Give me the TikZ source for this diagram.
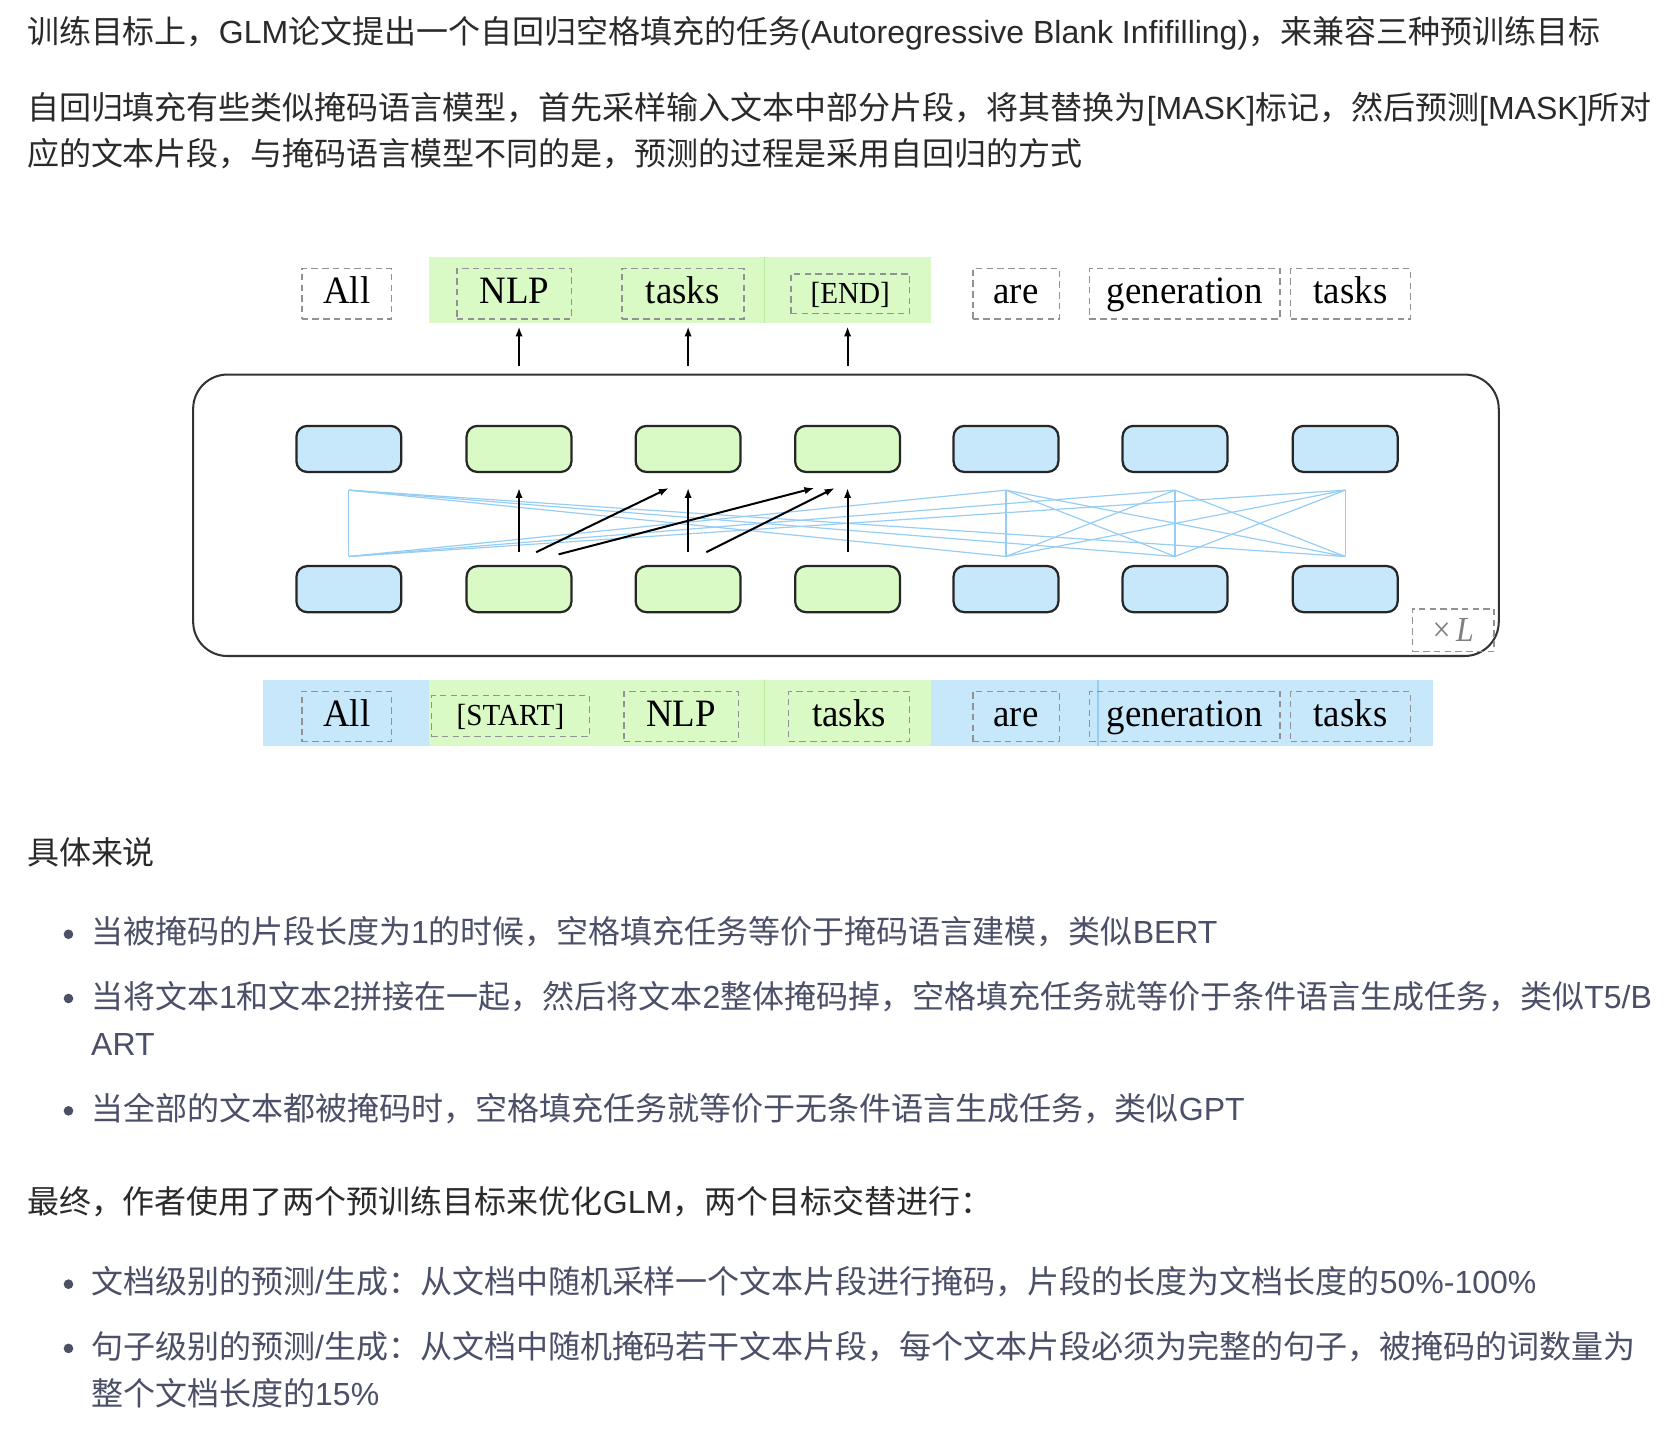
\documentclass[tikz,border=0pt]{standalone}
\usepackage{fontspec}
\setmainfont{Liberation Serif}
\newfontfamily\cjk{Noto Sans CJK SC}
\newfontfamily\lat{Liberation Sans}
\usetikzlibrary{arrows.meta}
\newdimen\dpx \dpx=0.8028pt
\definecolor{txt}{HTML}{2A2A2A}
\definecolor{btxt}{HTML}{4B4F68}
\definecolor{cblue}{RGB}{199,231,251}
\definecolor{cgreen}{RGB}{217,250,196}
\definecolor{gsplit}{RGB}{185,236,160}
\definecolor{bsplit}{RGB}{150,205,240}
\definecolor{attn}{RGB}{150,205,245}
\definecolor{dashc}{RGB}{145,145,150}
\newcommand\la[1]{{\lat #1}}
\newcommand\wt[1]{\raisebox{-4\dpx}{\scalebox{0.97}[1.02]{#1}}}
\begin{document}
\begin{tikzpicture}[x=0.8028pt,y=-0.8028pt,
  para/.style={anchor=base west,inner sep=0pt,font=\cjk\fontsize{24}{29}\selectfont,text=txt},
  bul/.style={para,text=btxt},
  bdot/.style={circle,fill=btxt,inner sep=0pt,minimum size=9\dpx},
  cellb/.style={draw=black!85,line width=2.1\dpx,rounded corners=10\dpx,fill=cblue,minimum width=98\dpx,minimum height=43\dpx,inner sep=0pt},
  cellg/.style={cellb,fill=cgreen},
  word/.style={draw=dashc,dash pattern=on 6\dpx off 4\dpx,line width=1.4\dpx,inner sep=0pt,minimum height=47\dpx,text height=1.02em,text depth=0.2em,font=\fontsize{28.5}{30}\selectfont},
  sword/.style={word,minimum height=37\dpx,font=\fontsize{22.5}{24}\selectfont},
  arr/.style={-{Latex[length=7.5pt,width=5.5pt]},line width=1.5pt},
  att/.style={draw=attn,line width=1.1\dpx}]
\useasboundingbox (0,0) rectangle (1568,1338);
\fill[white] (0,0) rectangle (1568,1338);

% ---------- text ----------
\node[para] (p1) at (25,41) {训练目标上，\la{GLM}论文提出一个自回归空格填充的任务\la{(Autoregressive Blank Infifilling)}，来兼容三种预训练目标};
\node[para] (p2a) at (25,112) {自回归填充有些类似掩码语言模型，首先采样输入文本中部分片段，将其替换为\la{[MASK]}标记，然后预测\la{[MASK]}所对};
\node[para] (p2b) at (25,155) {应的文本片段，与掩码语言模型不同的是，预测的过程是采用自回归的方式};
\node[para] (p3) at (25,808) {具体来说};
\node[bdot] (d1) at (64,873) {};
\node[bul] (b1) at (85,882) {当被掩码的片段长度为\la{1}的时候，空格填充任务等价于掩码语言建模，类似\la{BERT}};
\node[bdot] (d2) at (64,933) {};
\node[bul] (b2a) at (85,942) {当将文本\la{1}和文本\la{2}拼接在一起，然后将文本\la{2}整体掩码掉，空格填充任务就等价于条件语言生成任务，类似\la{T5/B}};
\node[bul] (b2b) at (85,986) {\la{ART}};
\node[bdot] (d3) at (64,1038) {};
\node[bul] (b3) at (85,1047) {当全部的文本都被掩码时，空格填充任务就等价于无条件语言生成任务，类似\la{GPT}};
\node[para] (p4) at (25,1134) {最终，作者使用了两个预训练目标来优化\la{GLM}，两个目标交替进行：};
\node[bdot] (d4) at (64,1200) {};
\node[bul] (b4) at (85,1209) {文档级别的预测\la{/}生成：从文档中随机采样一个文本片段进行掩码，片段的长度为文档长度的\la{50\%-100\%}};
\node[bdot] (d5) at (64,1260) {};
\node[bul] (b5a) at (85,1269) {句子级别的预测\la{/}生成：从文档中随机掩码若干文本片段，每个文本片段必须为完整的句子，被掩码的词数量为};
\node[bul] (b5b) at (85,1313) {整个文档长度的\la{15\%}};

% ---------- diagram: top strip ----------
\fill[cgreen] (401,240) rectangle (870,302);
\draw[gsplit,line width=1\dpx] (714,240) -- (714,302);
\node[word,minimum width=84\dpx] (tAll) at (324,274.5) {\wt{All}};
\node[word,minimum width=107\dpx] (tNLP) at (480.5,274.5) {\wt{NLP}};
\node[word,minimum width=114\dpx] (tTasks) at (638,274.5) {\wt{tasks}};
\node[sword,minimum width=111\dpx] (tEnd) at (794.5,274.5) {\wt{[END]}};
\node[word,minimum width=81\dpx] (tAre) at (949.5,274.5) {\wt{are}};
\node[word,minimum width=178\dpx] (tGen) at (1107,274.5) {\wt{generation}};
\node[word,minimum width=112\dpx] (tTasks2) at (1262,274.5) {\wt{tasks}};

% output arrows
\coordinate (o2) at (485,342); \coordinate (o2t) at (485,305);
\coordinate (o3) at (643,342); \coordinate (o3t) at (643,305);
\coordinate (o4) at (792,342); \coordinate (o4t) at (792,305);
\draw[arr] (o2) -- (o2t);
\draw[arr] (o3) -- (o3t);
\draw[arr] (o4) -- (o4t);

% ---------- block ----------
\node[draw=black!80,line width=1.9\dpx,rounded corners=32\dpx,minimum width=1220\dpx,minimum height=263\dpx,inner sep=0pt] (blk) at (790.5,481.5) {};

\node[cellb] (u1) at (326,419.5) {};
\node[cellg] (u2) at (485,419.5) {};
\node[cellg] (u3) at (643,419.5) {};
\node[cellg] (u4) at (792,419.5) {};
\node[cellb] (u5) at (940,419.5) {};
\node[cellb] (u6) at (1098,419.5) {};
\node[cellb] (u7) at (1257,419.5) {};
\node[cellb] (l1) at (326,550.5) {};
\node[cellg] (l2) at (485,550.5) {};
\node[cellg] (l3) at (643,550.5) {};
\node[cellg] (l4) at (792,550.5) {};
\node[cellb] (l5) at (940,550.5) {};
\node[cellb] (l6) at (1098,550.5) {};
\node[cellb] (l7) at (1257,550.5) {};

% attention (bidirectional part A)
\foreach \i/\x in {1/326,5/940,6/1098,7/1257}{
  \coordinate (au\i) at (\x,458);
  \coordinate (al\i) at (\x,520);
}
\foreach \i in {1,5,6,7}{
  \foreach \j in {1,5,6,7}{
    \draw[att] (al\i) -- (au\j);
  }
}

% autoregressive arrows
\coordinate (s2) at (485,516);  \coordinate (e2) at (485,456);
\coordinate (s3) at (643,516);  \coordinate (e3) at (643,456);
\coordinate (s4) at (792,516);  \coordinate (e4) at (792,456);
\coordinate (s23) at (501,516); \coordinate (e23) at (625,456);
\coordinate (s24) at (522,518); \coordinate (e24) at (761,456);
\coordinate (s34) at (660,516); \coordinate (e34) at (780,456);
\draw[arr] (s2) -- (e2);
\draw[arr] (s3) -- (e3);
\draw[arr] (s4) -- (e4);
\draw[arr] (s23) -- (e23);
\draw[arr] (s24) -- (e24);
\draw[arr] (s34) -- (e34);

\node[draw=dashc,dash pattern=on 6\dpx off 4\dpx,line width=1.3\dpx,minimum width=76\dpx,minimum height=40\dpx,inner sep=0pt,text=black!50,font=\fontsize{24}{26}\selectfont] (xl) at (1358,589) {\scalebox{1}[1.1]{×\,\textit{L}}};

% ---------- bottom strip ----------
\fill[cblue] (246,635) rectangle (401,697);
\fill[cgreen] (401,635) rectangle (870,697);
\fill[cblue] (870,635) rectangle (1339,697);
\draw[gsplit,line width=1\dpx] (714,635) -- (714,697);
\draw[bsplit,line width=1\dpx] (1026,635) -- (1026,697);
\node[word,minimum width=84\dpx] (bAll) at (324,669.5) {\wt{All}};
\node[sword,minimum width=148\dpx,minimum height=38\dpx] (bStart) at (477,669) {\wt{[START]}};
\node[word,minimum width=107\dpx] (bNLP) at (636.5,669.5) {\wt{NLP}};
\node[word,minimum width=113\dpx] (bTasks) at (793.5,669.5) {\wt{tasks}};
\node[word,minimum width=81\dpx] (bAre) at (949.5,669.5) {\wt{are}};
\node[word,minimum width=178\dpx] (bGen) at (1107,669.5) {\wt{generation}};
\node[word,minimum width=112\dpx] (bTasks2) at (1262,669.5) {\wt{tasks}};
\end{tikzpicture}
\end{document}
